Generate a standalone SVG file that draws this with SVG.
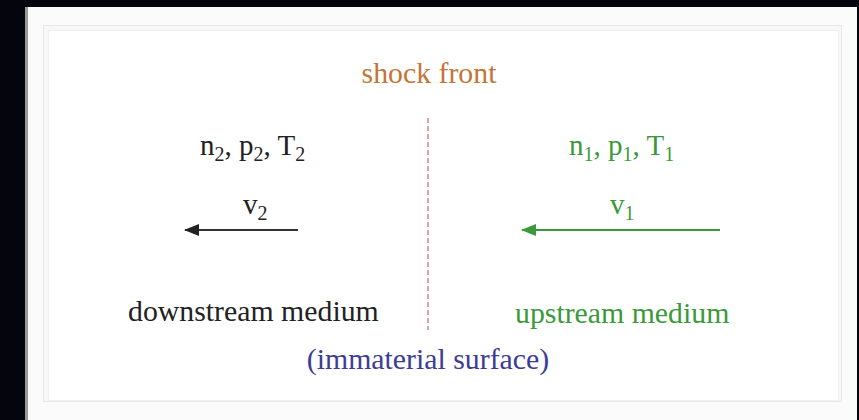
<svg xmlns="http://www.w3.org/2000/svg" width="859" height="420" viewBox="0 0 859 420">
  <defs>
    <style>
      .t { font-family: "Liberation Serif", "Times New Roman", serif; font-size: 29.8px; }
      .m { font-family: "Liberation Serif", "Times New Roman", serif; font-size: 29px; }
      .sub { font-size: 20px; }
      .blk { fill: #222222; }
      .grn { fill: #3a9a3a; }
      .blu { fill: #3c3c96; }
      .org { fill: #c47538; }
    </style>
    <marker id="ahB" viewBox="0 0 15 12" refX="14" refY="6" markerWidth="15" markerHeight="12" markerUnits="userSpaceOnUse" orient="auto">
      <path d="M15,6 L0,0 L0,12 Z" fill="#222222"/>
    </marker>
    <marker id="ahG" viewBox="0 0 15 12" refX="14" refY="6" markerWidth="15" markerHeight="12" markerUnits="userSpaceOnUse" orient="auto">
      <path d="M15,6 L0,0 L0,12 Z" fill="#3a9a3a"/>
    </marker>
  </defs>

  <!-- frame / background -->
  <rect x="0" y="0" width="859" height="420" fill="#05050d"/>
  <rect x="27" y="7" width="830" height="413" fill="#fbfbfb"/>
  <rect x="25" y="7" width="3" height="413" fill="#9a9a9a"/>
  <rect x="43.5" y="25.5" width="798" height="376" fill="#f8f8f8" stroke="#e8e8e8"/>
  <rect x="48.5" y="30.5" width="790" height="370" fill="#ffffff" stroke="#f0f0f0"/>

  <!-- connectors -->
  <g id="connectors">
    <line id="shock-line" x1="428" y1="118" x2="428" y2="330" stroke="#e08a8a" stroke-width="1.6" stroke-dasharray="5 3"/>
    <line id="v2-arrow" x1="298" y1="230" x2="185" y2="230" stroke="#333333" stroke-width="2" marker-end="url(#ahB)"/>
    <line id="v1-arrow" x1="720" y1="230" x2="522" y2="230" stroke="#3a9a3a" stroke-width="2" marker-end="url(#ahG)"/>
  </g>

  <g id="shock-front">
    <text class="t org" x="429" y="83" text-anchor="middle">shock front</text>
  </g>

  <g id="downstream">
    <text class="m blk" x="200" y="155">n<tspan class="sub" dy="6">2</tspan><tspan dy="-6">, p</tspan><tspan class="sub" dy="6">2</tspan><tspan dy="-6">, T</tspan><tspan class="sub" dy="6">2</tspan></text>
    <text class="m blk" x="243" y="214">v<tspan class="sub" dy="6">2</tspan></text>
    <text class="t blk" x="128" y="321">downstream medium</text>
  </g>

  <g id="upstream">
    <text class="m grn" x="569" y="155">n<tspan class="sub" dy="6">1</tspan><tspan dy="-6">, p</tspan><tspan class="sub" dy="6">1</tspan><tspan dy="-6">, T</tspan><tspan class="sub" dy="6">1</tspan></text>
    <text class="m grn" x="610" y="214">v<tspan class="sub" dy="6">1</tspan></text>
    <text class="t grn" x="515" y="323">upstream medium</text>
  </g>

  <g id="surface">
    <text class="t blu" x="428" y="369" text-anchor="middle">(immaterial surface)</text>
  </g>
</svg>
